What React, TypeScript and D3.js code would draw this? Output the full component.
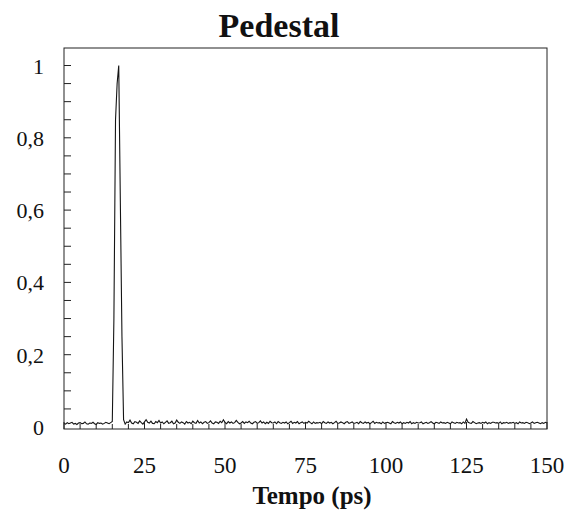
import React, { useEffect, useRef } from "react";
import * as d3 from "d3";

// Sampling step of the trace (ps)
const timeStep = 0.5;

// Normalised pedestal trace, in thousandths, sampled every 0.5 ps from 0 to 150 ps
const signalMilli: number[] = [
  10, 8, 12, 9, 11, 13, 8, 10, 7, 11, 12, 9, 10, 14, 9, 8, 11, 10, 13, 9, 7, 12, 10, 11, 8, 10, 13, 11, 9, 12,
  15, 300, 850, 950, 1000, 620, 250, 20,
  8, 14, 12, 19, 11, 9, 15, 13, 10, 17, 12, 8, 14, 20, 13, 11, 16, 10, 9, 15,
  12, 18, 11, 14, 9, 13, 17, 10, 12, 16, 9, 11, 19, 13, 10, 14, 12, 8, 15, 11,
  13, 9, 16, 12, 10, 18, 11, 14, 9, 13, 15, 10, 12, 17, 11, 9, 14, 13, 10, 16,
  12, 20, 13, 9, 15, 11, 14, 10, 12, 18, 13, 9, 11, 15, 10, 14, 12, 16, 11, 9,
  13, 15, 10, 12, 17, 11, 14, 9, 13, 10, 16, 12, 11, 14, 9, 15, 12, 10, 13, 11,
  14, 9, 12, 16, 10, 13, 11, 15, 9, 12, 14, 10, 13, 11, 16, 12, 9, 14, 10, 12,
  11, 13, 9, 15, 12, 10, 14, 11, 13, 9, 12, 16, 10, 11, 14, 12, 9, 13, 15, 10,
  12, 14, 10, 11, 13, 9, 15, 12, 10, 14, 11, 13, 9, 12, 16, 10, 13, 11, 12, 9,
  14, 10, 12, 13, 11, 9, 15, 12, 10, 13, 11, 14, 9, 12, 10, 13, 11, 15, 9, 12,
  10, 13, 11, 12, 14, 9, 11, 13, 10, 12, 15, 11, 9, 13, 12, 10, 14, 11, 12, 10,
  13, 11, 9, 14, 12, 10, 13, 11, 12, 9, 14, 10, 22, 13, 11, 10, 15, 12, 9, 11,
  12, 10, 13, 11, 14, 9, 12, 10, 13, 13, 11, 12, 10, 14, 9, 12, 11, 13, 10, 12,
  11, 13, 10, 12, 9, 14, 11, 12, 10, 13,
  12, 9, 11, 14, 10, 12, 13, 11, 9, 12, 10, 13, 11,
];

const xTicks = [0, 25, 50, 75, 100, 125, 150];
const yTicks = [0, 0.2, 0.4, 0.6, 0.8, 1];
const xMinorStep = 5;
const yMinorStep = 0.05;

const title = "Pedestal";
const xTitle = "Tempo (ps)";

const W = 567;
const H = 511;
const left = 64;
const right = 547;
const top = 48;
const bottom = 429;

export default function App() {
  const ref = useRef<SVGSVGElement>(null);

  useEffect(() => {
    const svg = d3.select(ref.current);
    svg.selectAll("*").remove();

    const x = d3.scaleLinear().domain([0, 150]).range([left, right]);
    // 0 sits a little above the bottom frame line
    const y = d3.scaleLinear().domain([0, 1]).range([427, 65.5]);

    const serif = "'Liberation Serif', 'Times New Roman', serif";
    const fmt = (v: number) => (v === 0 || v === 1 ? String(v) : v.toFixed(1).replace(".", ","));

    // Trace
    const pts = signalMilli.map((v, i) => [i * timeStep, v / 1000] as [number, number]);
    const line = d3
      .line<[number, number]>()
      .x((d) => x(d[0]))
      .y((d) => y(d[1]));
    svg
      .append("path")
      .attr("d", line(pts))
      .attr("fill", "none")
      .attr("stroke", "#151515")
      .attr("stroke-width", 1.1);

    // Frame
    svg
      .append("rect")
      .attr("x", left)
      .attr("y", top)
      .attr("width", right - left)
      .attr("height", bottom - top)
      .attr("fill", "none")
      .attr("stroke", "#222")
      .attr("stroke-width", 1);

    // Minor and major ticks, pointing inward
    const xMinor = d3.range(0, 150 + 1e-9, xMinorStep);
    svg
      .append("g")
      .selectAll("line")
      .data(xMinor)
      .join("line")
      .attr("x1", (d) => x(d))
      .attr("x2", (d) => x(d))
      .attr("y1", bottom)
      .attr("y2", (d) => bottom - (d % 25 === 0 ? 7 : 5))
      .attr("stroke", "#222")
      .attr("stroke-width", 1);

    const yMinor = d3.range(0.05, 1.0 + 1e-9, yMinorStep);
    svg
      .append("g")
      .selectAll("line")
      .data(yMinor)
      .join("line")
      .attr("x1", left)
      .attr("x2", left + 7)
      .attr("y1", (d) => y(d))
      .attr("y2", (d) => y(d))
      .attr("stroke", "#222")
      .attr("stroke-width", 1);

    // Tick labels
    svg
      .append("g")
      .selectAll("text")
      .data(xTicks)
      .join("text")
      .attr("x", (d) => x(d))
      .attr("y", 473)
      .attr("text-anchor", "middle")
      .attr("font-family", serif)
      .attr("font-size", 23)
      .attr("fill", "#111")
      .text((d) => String(d));

    svg
      .append("g")
      .selectAll("text")
      .data(yTicks)
      .join("text")
      .attr("x", 44)
      .attr("y", (d) => y(d) + 8)
      .attr("text-anchor", "end")
      .attr("font-family", serif)
      .attr("font-size", 22)
      .attr("fill", "#111")
      .text((d) => fmt(d));

    // Titles
    svg
      .append("text")
      .attr("x", 279)
      .attr("y", 37)
      .attr("text-anchor", "middle")
      .attr("font-family", serif)
      .attr("font-weight", "bold")
      .attr("font-size", 34)
      .attr("fill", "#111")
      .text(title);

    svg
      .append("text")
      .attr("x", 312)
      .attr("y", 504)
      .attr("text-anchor", "middle")
      .attr("font-family", serif)
      .attr("font-weight", "bold")
      .attr("font-size", 25)
      .attr("fill", "#111")
      .text(xTitle);
  }, []);

  return (
    <svg
      ref={ref}
      width={W}
      height={H}
      style={{ position: "absolute", left: 0, top: 0, background: "#fff" }}
    />
  );
}
